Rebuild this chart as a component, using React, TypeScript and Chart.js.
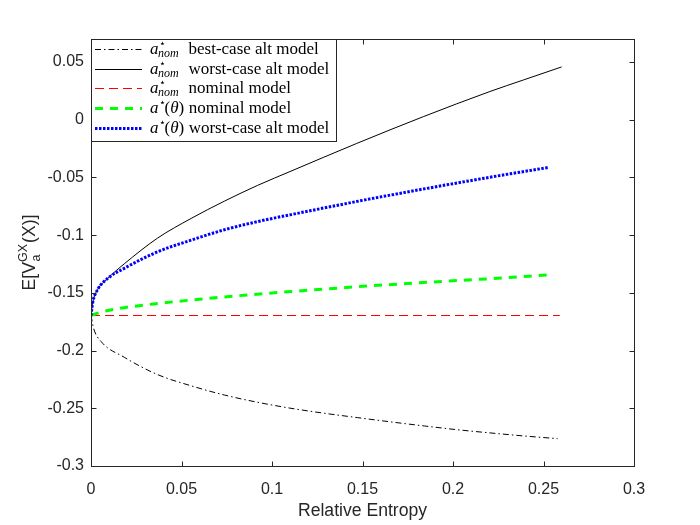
import React, { useEffect, useRef } from 'react';
import { Chart, registerables } from 'chart.js';

Chart.register(...registerables);

// ---- data ----
const bestX = [0, 0.0015, 0.0055, 0.0184, 0.0368, 0.0553, 0.0737, 0.0921, 0.1105, 0.1289, 0.1473, 0.1657, 0.1842, 0.2026, 0.221, 0.2394, 0.2578];
const bestY = [-0.1696, -0.181, -0.192, -0.2058, -0.2208, -0.2305, -0.2385, -0.2448, -0.25, -0.2543, -0.2581, -0.2618, -0.2653, -0.2686, -0.2714, -0.274, -0.2763];

const worstX = [0, 0.001, 0.0037, 0.0092, 0.0184, 0.0368, 0.0553, 0.0737, 0.0921, 0.1105, 0.1468, 0.1836, 0.2204, 0.2389, 0.26];
const worstY = [-0.1696, -0.158, -0.147, -0.1375, -0.1248, -0.1025, -0.0855, -0.0705, -0.0568, -0.0445, -0.0205, 0.0027, 0.0245, 0.0345, 0.0458];

const nomX = [0, 0.259];
const nomY = [-0.1696, -0.1696];

const thetaNomX = [0, 0.006, 0.0184, 0.0368, 0.0737, 0.1105, 0.1468, 0.1836, 0.2204, 0.2527];
const thetaNomY = [-0.1696, -0.1665, -0.1628, -0.1592, -0.1535, -0.1488, -0.1447, -0.141, -0.1377, -0.1345];

const thetaWorstX = [0, 0.001, 0.0037, 0.0092, 0.0184, 0.0368, 0.0553, 0.0737, 0.0921, 0.1105, 0.1468, 0.1836, 0.2204, 0.2527];
const thetaWorstY = [-0.1696, -0.158, -0.147, -0.1375, -0.1287, -0.1144, -0.1043, -0.0953, -0.0882, -0.0822, -0.0708, -0.06, -0.0498, -0.0413];

const xTicks = [0, 0.05, 0.1, 0.15, 0.2, 0.25, 0.3];
const xTickLabels = ['0', '0.05', '0.1', '0.15', '0.2', '0.25', '0.3'];
const yTicks = [-0.3, -0.25, -0.2, -0.15, -0.1, -0.05, 0, 0.05];
const yTickLabels = ['-0.3', '-0.25', '-0.2', '-0.15', '-0.1', '-0.05', '0', '0.05'];

const legendTexts = ['best-case alt model', 'worst-case alt model', 'nominal model', 'nominal model', 'worst-case alt model'];
const legendMath = ['nom', 'nom', 'nom', 'theta', 'theta'];

const xLabel = 'Relative Entropy';

const AXIS = '#262626';
const SANS = '"Liberation Sans", Arial, Helvetica, sans-serif';
const SERIF = '"Liberation Serif", "Times New Roman", serif';

const styles = [
  { color: '#000000', width: 1, dash: [6, 3, 1.5, 3] },
  { color: '#000000', width: 1, dash: [] as number[] },
  { color: '#ff0000', width: 1, dash: [9, 5] },
  { color: '#00ff00', width: 3, dash: [8, 7] },
  { color: '#0000ff', width: 3, dash: [2.5, 1.5] },
];

function pts(xs: number[], ys: number[]) {
  return xs.map((x, i) => ({ x, y: ys[i] }));
}

const overlayPlugin = {
  id: 'overlay',
  afterDraw(chart: any) {
    const ctx = chart.ctx as CanvasRenderingContext2D;
    const a = chart.chartArea;
    const xs = chart.scales.x;
    const ys = chart.scales.y;
    const L = Math.round(a.left) + 0.5;
    const R = Math.round(a.right) + 0.5;
    const T = Math.round(a.top) + 0.5;
    const B = Math.round(a.bottom) + 0.5;
    ctx.save();
    ctx.strokeStyle = AXIS;
    ctx.lineWidth = 1;
    ctx.setLineDash([]);
    ctx.strokeRect(L, T, R - L, B - T);
    const tl = 5;
    ctx.beginPath();
    xTicks.forEach((v) => {
      const px = Math.round(xs.getPixelForValue(v)) + 0.5;
      ctx.moveTo(px, B); ctx.lineTo(px, B - tl);
      ctx.moveTo(px, T); ctx.lineTo(px, T + tl);
    });
    yTicks.forEach((v) => {
      const py = Math.round(ys.getPixelForValue(v)) + 0.5;
      ctx.moveTo(L, py); ctx.lineTo(L + tl, py);
      ctx.moveTo(R, py); ctx.lineTo(R - tl, py);
    });
    ctx.stroke();

    // x label
    ctx.fillStyle = AXIS;
    ctx.font = `17.6px ${SANS}`;
    ctx.textAlign = 'center';
    ctx.textBaseline = 'alphabetic';
    ctx.fillText(xLabel, (a.left + a.right) / 2, 515.5);

    // y label E[V^{GX}_a(X)]
    ctx.save();
    ctx.translate(35, (a.top + a.bottom) / 2);
    ctx.rotate(-Math.PI / 2);
    ctx.textAlign = 'left';
    const big = `17.6px ${SANS}`;
    const small = `12.5px ${SANS}`;
    ctx.font = big;
    const w1 = ctx.measureText('E[V').width;
    const w3 = ctx.measureText('(X)]').width;
    ctx.font = small;
    const wsup = ctx.measureText('GX').width;
    const wsub = ctx.measureText('a').width;
    const total = w1 + Math.max(wsup, wsub) + 1 + w3;
    let x = -total / 2;
    ctx.font = big; ctx.fillText('E[V', x, 0); x += w1;
    ctx.font = small; ctx.fillText('GX', x, -8); ctx.fillText('a', x + 0.5, 5);
    x += Math.max(wsup, wsub) + 1;
    ctx.font = big; ctx.fillText('(X)]', x, 0);
    ctx.restore();

    // legend
    const bx = L, by = T, bw = 245, bh = 102;
    ctx.fillStyle = '#ffffff';
    ctx.fillRect(bx, by, bw, bh);
    ctx.strokeStyle = AXIS;
    ctx.lineWidth = 1;
    ctx.strokeRect(bx, by, bw, bh);
    legendTexts.forEach((t, i) => {
      const ly = Math.round(49 + i * 19.7) + 0.5;
      const s = styles[i];
      ctx.beginPath();
      ctx.strokeStyle = s.color;
      ctx.lineWidth = s.width;
      ctx.setLineDash(s.dash);
      ctx.lineCap = 'butt';
      ctx.moveTo(95, ly); ctx.lineTo(142, ly);
      ctx.stroke();
      ctx.setLineDash([]);
      const base = ly + 4.5;
      const mx = 150;
      ctx.fillStyle = '#000000';
      ctx.textAlign = 'left';
      ctx.font = `italic 17px ${SERIF}`;
      ctx.fillText('a', mx, base);
      const aw = ctx.measureText('a').width;
      ctx.font = `11px ${SERIF}`;
      ctx.fillText('\u22C6', mx + aw, base - 7);
      let tx = 188.5;
      if (legendMath[i] === 'nom') {
        ctx.font = `italic 12px ${SERIF}`;
        ctx.fillText('nom', mx + aw - 0.5, base + 3);
      } else {
        let px = mx + aw + 6;
        ctx.font = `17px ${SERIF}`;
        ctx.fillText('(', px, base);
        px += ctx.measureText('(').width;
        ctx.font = `italic 17px ${SERIF}`;
        ctx.fillText('\u03B8', px, base);
        px += ctx.measureText('\u03B8').width;
        ctx.font = `17px ${SERIF}`;
        ctx.fillText(')', px, base);
        px += ctx.measureText(')').width;
        tx = Math.max(tx, px + 4.5);
      }
      ctx.font = `17px ${SERIF}`;
      ctx.fillText(t, tx, base);
    });
    ctx.restore();
  },
};

export default function App() {
  const ref = useRef<HTMLCanvasElement | null>(null);
  useEffect(() => {
    if (!ref.current) return;
    const series = [
      pts(bestX, bestY),
      pts(worstX, worstY),
      pts(nomX, nomY),
      pts(thetaNomX, thetaNomY),
      pts(thetaWorstX, thetaWorstY),
    ];
    const chart = new Chart(ref.current, {
      type: 'line',
      data: {
        datasets: series.map((d, i) => ({
          data: d,
          borderColor: styles[i].color,
          borderWidth: styles[i].width,
          borderDash: styles[i].dash,
          borderCapStyle: 'butt',
          pointRadius: 0,
          cubicInterpolationMode: 'monotone',
          fill: false,
          order: 5 - i,
        })),
      },
      options: {
        animation: false,
        responsive: false,
        devicePixelRatio: 1,
        layout: { padding: { left: 0, top: 39, right: 66, bottom: 0 } },
        plugins: { legend: { display: false }, tooltip: { enabled: false } },
        scales: {
          x: {
            type: 'linear',
            min: 0,
            max: 0.3,
            afterBuildTicks: (s: any) => { s.ticks = xTicks.map((v) => ({ value: v })); },
            afterFit: (s: any) => { s.height = 59; },
            ticks: {
              callback: (_v: any, i: number) => xTickLabels[i],
              font: { family: SANS, size: 16 },
              color: AXIS,
              padding: 14,
              maxRotation: 0,
              autoSkip: false,
            },
            grid: { display: false, drawTicks: false },
            border: { display: false },
          },
          y: {
            type: 'linear',
            min: -0.3,
            max: 0.07,
            afterBuildTicks: (s: any) => { s.ticks = yTicks.map((v) => ({ value: v })); },
            afterFit: (s: any) => { s.width = 91; },
            ticks: {
              callback: (_v: any, i: number) => yTickLabels[i],
              font: { family: SANS, size: 16 },
              color: AXIS,
              padding: 7,
              autoSkip: false,
            },
            grid: { display: false, drawTicks: false },
            border: { display: false },
          },
        },
      },
      plugins: [overlayPlugin],
    } as any);
    return () => chart.destroy();
  }, []);
  return (
    <div style={{ position: 'absolute', left: 0, top: 0, width: 700, height: 525, background: '#fff' }}>
      <canvas ref={ref} width={700} height={525} style={{ width: 700, height: 525 }} />
    </div>
  );
}
